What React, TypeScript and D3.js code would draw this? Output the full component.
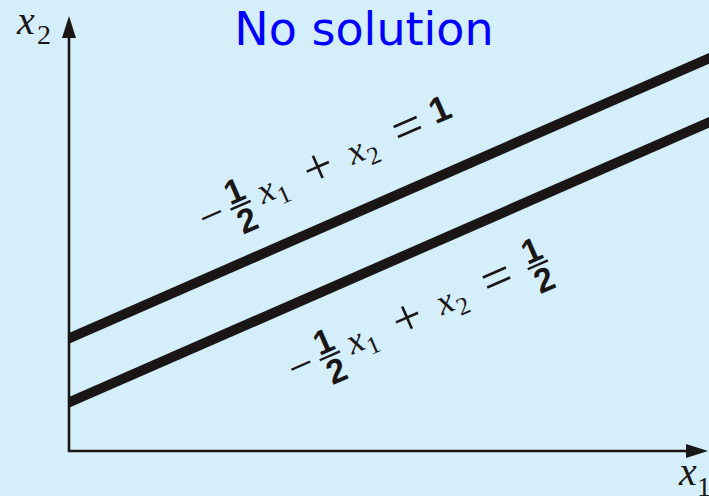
import React from "react";
import * as d3 from "d3";

const W = 709;
const H = 496;

// Data
const x1Domain = [-0.24, 4.135];
const x2Domain = [0, 3.5];
const x1Coef = -0.5; // coefficient of x1 in both equations
const rhsValues = [1, 0.5]; // right-hand sides of the two equations
const rhsLabels = ["1", "1/2"];
const labelAnchorX1 = [0.67, 1.28];
const titleText = "No solution";

const BG = "#d4eefa";
const INK = "#1b1616";
const SERIF = "Liberation Serif, Times New Roman, serif";
const SANS = "Liberation Sans, Arial, sans-serif";

function Frac({ cx, num, den, size }: { cx: number; num: string; den: string; size: number }) {
  return (
    <g>
      <text x={cx} y={-4} textAnchor="middle" fontFamily={SANS} fontWeight="bold" fontSize={size} fill={INK}>{num}</text>
      <line x1={cx - 11} x2={cx + 11} y1={0} y2={0} stroke={INK} strokeWidth={2.4} />
      <text x={cx} y={28} textAnchor="middle" fontFamily={SANS} fontWeight="bold" fontSize={size} fill={INK}>{den}</text>
    </g>
  );
}

function EqLabel({ ox, oy, angle, rhs }: { ox: number; oy: number; angle: number; rhs: string }) {
  return (
    <g transform={`translate(${ox},${oy}) rotate(${angle})`}>
      <text x={-1} y={12} fontFamily={SERIF} fontSize={44} fill={INK}>−</text>
      <Frac cx={42} num="1" den="2" size={34} />
      <text x={63} y={8} fontFamily={SERIF} fontStyle="italic" fontSize={36} fill={INK}>x</text>
      <text x={80} y={16} fontFamily={SERIF} fontSize={25} fill={INK}>1</text>
      <text x={128} y={13} textAnchor="middle" fontFamily={SERIF} fontSize={52} fill={INK}>+</text>
      <text x={161} y={8} fontFamily={SERIF} fontStyle="italic" fontSize={36} fill={INK}>x</text>
      <text x={178} y={16} fontFamily={SERIF} fontSize={25} fill={INK}>2</text>
      <text x={226} y={13} textAnchor="middle" fontFamily={SERIF} fontSize={54} fill={INK}>=</text>
      {rhs === "1" ? (
        <text x={263} y={4} textAnchor="middle" fontFamily={SANS} fontWeight="bold" fontSize={36} fill={INK}>1</text>
      ) : (
        <Frac cx={269} num="1" den="2" size={34} />
      )}
    </g>
  );
}

export default function App() {
  const x = d3.scaleLinear().domain(x1Domain).range([69, 709]);
  const y = d3.scaleLinear().domain(x2Domain).range([451, 3]);
  const x0 = x(x1Domain[0]);
  const y0 = y(0);

  const f = (rhs: number, v: number) => rhs - x1Coef * v;

  const angle =
    (Math.atan2(y(f(1, x1Domain[1])) - y(f(1, x1Domain[0])), x(x1Domain[1]) - x(x1Domain[0])) * 180) /
    Math.PI;

  const labelDy = [-58, 67.6];

  return (
    <svg width={W} height={H} style={{ position: "absolute", left: 0, top: 0, display: "block" }}>
      <defs>
        <clipPath id="plotClip">
          <rect x={x0} y={0} width={W - x0} height={y0} />
        </clipPath>
      </defs>
      <rect x={0} y={0} width={W} height={H} fill={BG} />
      <text x={364} y={45} textAnchor="middle" fontFamily="DejaVu Sans, Verdana, sans-serif" fontSize={46} fill="#0000ff">
        {titleText}
      </text>

      {/* axes */}
      <line x1={x0} x2={x0} y1={y0 + 1} y2={34} stroke={INK} strokeWidth={2.6} />
      <path d={`M${x0},16 L${x0 - 7},38 L${x0 + 7},38 Z`} fill={INK} />
      <line x1={x0 - 1} x2={690} y1={y0} y2={y0} stroke={INK} strokeWidth={2.6} />
      <path d={`M708,${y0} L686,${y0 - 7} L686,${y0 + 7} Z`} fill={INK} />

      <text x={17} y={34} fontFamily={SERIF} fontStyle="italic" fontSize={40} fill={INK}>x</text>
      <text x={37} y={44} fontFamily={SERIF} fontSize={28} fill={INK}>2</text>
      <text x={679} y={485} fontFamily={SERIF} fontStyle="italic" fontSize={40} fill={INK}>x</text>
      <text x={697} y={496} fontFamily={SERIF} fontSize={28} fill={INK}>1</text>

      {/* lines */}
      <g clipPath="url(#plotClip)">
        {rhsValues.map((r, i) => {
          const gen = d3
            .line<number>()
            .x((v) => x(v))
            .y((v) => y(f(r, v)));
          return (
            <path
              key={i}
              d={gen([x1Domain[0] - 0.05, x1Domain[1] + 0.05]) || ""}
              stroke={INK}
              strokeWidth={10}
              fill="none"
            />
          );
        })}
      </g>

      {rhsValues.map((r, i) => (
        <EqLabel
          key={i}
          ox={x(labelAnchorX1[i])}
          oy={y(f(r, labelAnchorX1[i])) + labelDy[i]}
          angle={angle}
          rhs={rhsLabels[i] === "1" ? "1" : "1/2"}
        />
      ))}
    </svg>
  );
}
